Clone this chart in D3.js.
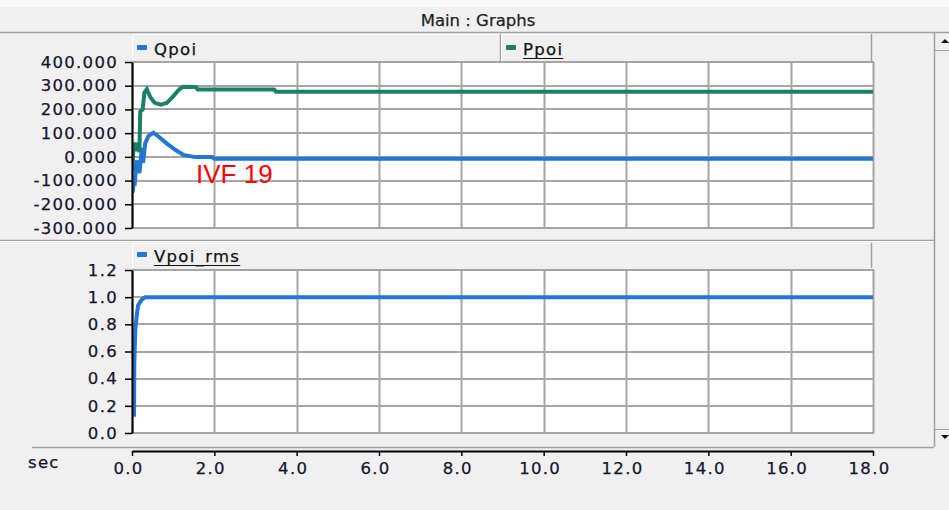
<!DOCTYPE html>
<html>
<head>
<meta charset="utf-8">
<script src="https://cdn.jsdelivr.net/npm/d3@7"></script>
<style>
  body { margin: 0; background: #f0f0f0; }
  svg { display: block; font-family: "DejaVu Sans", sans-serif; }
  .tick text { font-size: 16.5px; letter-spacing: 1.3px; fill: #141430; stroke: #141430; stroke-width: 0.25px; font-family: "DejaVu Sans", sans-serif; }
  .lbl { stroke-width: 0.25px; }
</style>
</head>
<body>
<div id="chart"></div>
<script>

// data

var qpoi = [[0,-150],[0.02,-146],[0.05,-100],[0.07,-104],[0.11,-15],[0.18,-68],[0.24,38],[0.27,-25],
	[0.32,57],[0.4,88],[0.52,102],[0.65,85],[0.84,57],[1.05,30],[1.25,8],[1.53,-1],[1.95,-1],[2.0,-8],[18,-8]];

var ppoi = [[0,-60],[0.02,-20],[0.04,59],[0.08,45],[0.11,25],[0.14,60],[0.18,20],[0.2,190],[0.26,200],
	[0.3,270],[0.36,285],[0.45,250],[0.55,228],[0.7,220],[0.85,228],[1.0,255],[1.15,285],[1.24,296],
	[1.55,295],[1.6,284],[3.45,284],[3.5,275],[18,275]];

var vpoi = [[0.05,0.12],[0.055,0.51],[0.08,0.76],[0.12,0.88],[0.15,0.94],[0.23,0.98],[0.32,1.0],[18,1.0]];

var topTicks = [-300,-200,-100,0,100,200,300,400],
	botTicks = [0,0.2,0.4,0.6,0.8,1.0,1.2],
	timeTicks = [0,2,4,6,8,10,12,14,16,18];

var title = "Main : Graphs",
	annotation = "IVF 19",
	xname = "sec";

// layout

var width = 949, height = 510,
	plot_left = 132, plot_right = 873,
	top_y = [62,228],
	bot_y = [270,433],
	xaxis_y = 451,
	bluecolor = "#2176d6",
	greencolor = "#1a8068",
	gridcolor = "#a8a4a0",
	framecolor = "#a0a0a0",
	textcolor = "#141430";

var X = d3.scaleLinear().domain([0,18]).range([plot_left,plot_right]);
var Ytop = d3.scaleLinear().domain([-300,400]).range([top_y[1],top_y[0]]);
var Ybot = d3.scaleLinear().domain([0,1.2]).range([bot_y[1],bot_y[0]]);

var svg = d3.select("#chart").append("svg")
	.attr("width",width)
	.attr("height",height);

// window frame

svg.append("rect").attr("x",0).attr("y",0).attr("width",width).attr("height",height).attr("fill","#f0f0f0");
svg.append("rect").attr("x",0).attr("y",0).attr("width",width).attr("height",7).attr("fill","#f9f9f9");
svg.append("text").attr("x",478).attr("y",26).attr("text-anchor","middle").attr("class","lbl")
	.style("font-size","16.5px").attr("fill","#222").attr("stroke","#222").text(title);

function hline(y,x1,x2,c,w){
	svg.append("line").attr("x1",x1).attr("x2",x2).attr("y1",y).attr("y2",y)
		.attr("stroke",c).attr("stroke-width",w||1);
}
function vline(x,y1,y2,c,w){
	svg.append("line").attr("x1",x).attr("x2",x).attr("y1",y1).attr("y2",y2)
		.attr("stroke",c).attr("stroke-width",w||1);
}

hline(32.5,0,width,framecolor,1.5);
hline(240.5,0,934,framecolor,1.5);
hline(241.5,0,934,"#fff",1);
hline(447.5,32,934,framecolor,1.5);

// scrollbar
vline(934.5,33,447,framecolor,1.5);
hline(50.5,935,width,framecolor,1);
hline(429.5,935,width,framecolor,1);
svg.append("path").attr("d","M941,43 L945,39 L949,43 Z").attr("fill","#111");
svg.append("path").attr("d","M941,435 L945,439 L949,435 Z").attr("fill","#111");

// legend tabs

function tab(x1,x2,y1,y2){
	svg.append("rect").attr("x",x1).attr("y",y1).attr("width",x2-x1).attr("height",y2-y1).attr("fill","#f0f0f0");
	vline(x1+0.5,y1,y2,"#fff",1);
	hline(y1+0.5,x1,x2,"#fff",1);
	vline(x2-0.5,y1,y2,framecolor,1.5);
}
function legend(x,y,name,color,underline){
	svg.append("rect").attr("x",x).attr("y",y-10).attr("width",10).attr("height",5).attr("rx",1).attr("fill",color);
	var t = svg.append("text").attr("x",x+17).attr("y",y).attr("class","lbl")
		.style("font-size","16.5px").style("letter-spacing","1.3px").attr("fill","#111").attr("stroke","#111").text(name);
	if(underline){
		var w = t.node().getComputedTextLength();
		hline(y+3.5,x+17,x+17+w,"#111",1.2);
	}
}

tab(132,501,34,61);
tab(501,872,34,61);
tab(132,872,243,268);
legend(137,55,"Qpoi",bluecolor,false);
legend(506,55,"Ppoi",greencolor,true);
legend(137,262,"Vpoi_rms",bluecolor,true);

// plot areas with grid

function plotarea(Y,ticks,yr,id){
	svg.append("rect").attr("x",plot_left).attr("y",yr[0]).attr("width",plot_right-plot_left+1)
		.attr("height",yr[1]-yr[0]).attr("fill","#fff");
	svg.append("clipPath").attr("id",id).append("rect")
		.attr("x",plot_left).attr("y",yr[0]-2).attr("width",plot_right-plot_left+2).attr("height",yr[1]-yr[0]+4);
	var g = svg.append("g");
	g.selectAll(".hg").data(ticks).enter().append("line")
		.attr("x1",plot_left).attr("x2",plot_right+1)
		.attr("y1",function(d){return Math.round(Y(d));}).attr("y2",function(d){return Math.round(Y(d));})
		.attr("stroke",gridcolor).attr("stroke-width",2);
	g.selectAll(".vg").data(timeTicks).enter().append("line")
		.attr("x1",function(d){return Math.round(X(d))+0.5;}).attr("x2",function(d){return Math.round(X(d))+0.5;})
		.attr("y1",yr[0]).attr("y2",yr[1])
		.attr("stroke",gridcolor).attr("stroke-width",2);
}

plotarea(Ytop,topTicks,top_y,"cliptop");
plotarea(Ybot,botTicks,bot_y,"clipbot");

// curves

var lineTop = d3.line().x(function(d){return X(d[0]);}).y(function(d){return Ytop(d[1]);});
var lineBot = d3.line().x(function(d){return X(d[0]);}).y(function(d){return Ybot(d[1]);});

svg.append("path").datum(qpoi).attr("d",lineTop).attr("clip-path","url(#cliptop)")
	.attr("fill","none").attr("stroke",bluecolor).attr("stroke-width",4);
svg.append("path").datum(ppoi).attr("d",lineTop).attr("clip-path","url(#cliptop)")
	.attr("fill","none").attr("stroke",greencolor).attr("stroke-width",4);
svg.append("path").datum(vpoi).attr("d",lineBot).attr("clip-path","url(#clipbot)")
	.attr("fill","none").attr("stroke",bluecolor).attr("stroke-width",4);

svg.append("text").attr("x",196).attr("y",183)
	.style("font-family","'Liberation Sans', Arial, sans-serif").style("font-size","26px")
	.attr("fill","#ff0000").text(annotation);

// axes

function styleaxis(g){
	g.select(".domain").attr("stroke","#000").attr("stroke-width",2);
	g.selectAll(".tick line").attr("stroke","#000").attr("stroke-width",1.5);
}

svg.append("g").attr("transform","translate("+plot_left+",0)")
	.call(d3.axisLeft(Ytop).tickValues(topTicks).tickFormat(function(d){return d.toFixed(3);})
		.tickSize(7).tickSizeOuter(0).tickPadding(7))
	.call(styleaxis);

svg.append("g").attr("transform","translate("+plot_left+",0)")
	.call(d3.axisLeft(Ybot).tickValues(botTicks).tickFormat(function(d){return d.toFixed(1);})
		.tickSize(7).tickSizeOuter(0).tickPadding(7))
	.call(styleaxis);

var xg = svg.append("g").attr("transform","translate(0,"+xaxis_y+")")
	.call(d3.axisBottom(X).tickValues(timeTicks).tickFormat(function(d){return d.toFixed(1);})
		.tickSize(5).tickSizeOuter(0))
	.call(styleaxis);
xg.selectAll(".tick text").attr("y",23).attr("dy",0).attr("dx",-4);

svg.append("text").attr("x",28).attr("y",468).attr("class","lbl")
	.style("font-size","16.5px").style("letter-spacing","1.3px").attr("fill",textcolor).attr("stroke",textcolor).text(xname);

</script>
</body>
</html>
